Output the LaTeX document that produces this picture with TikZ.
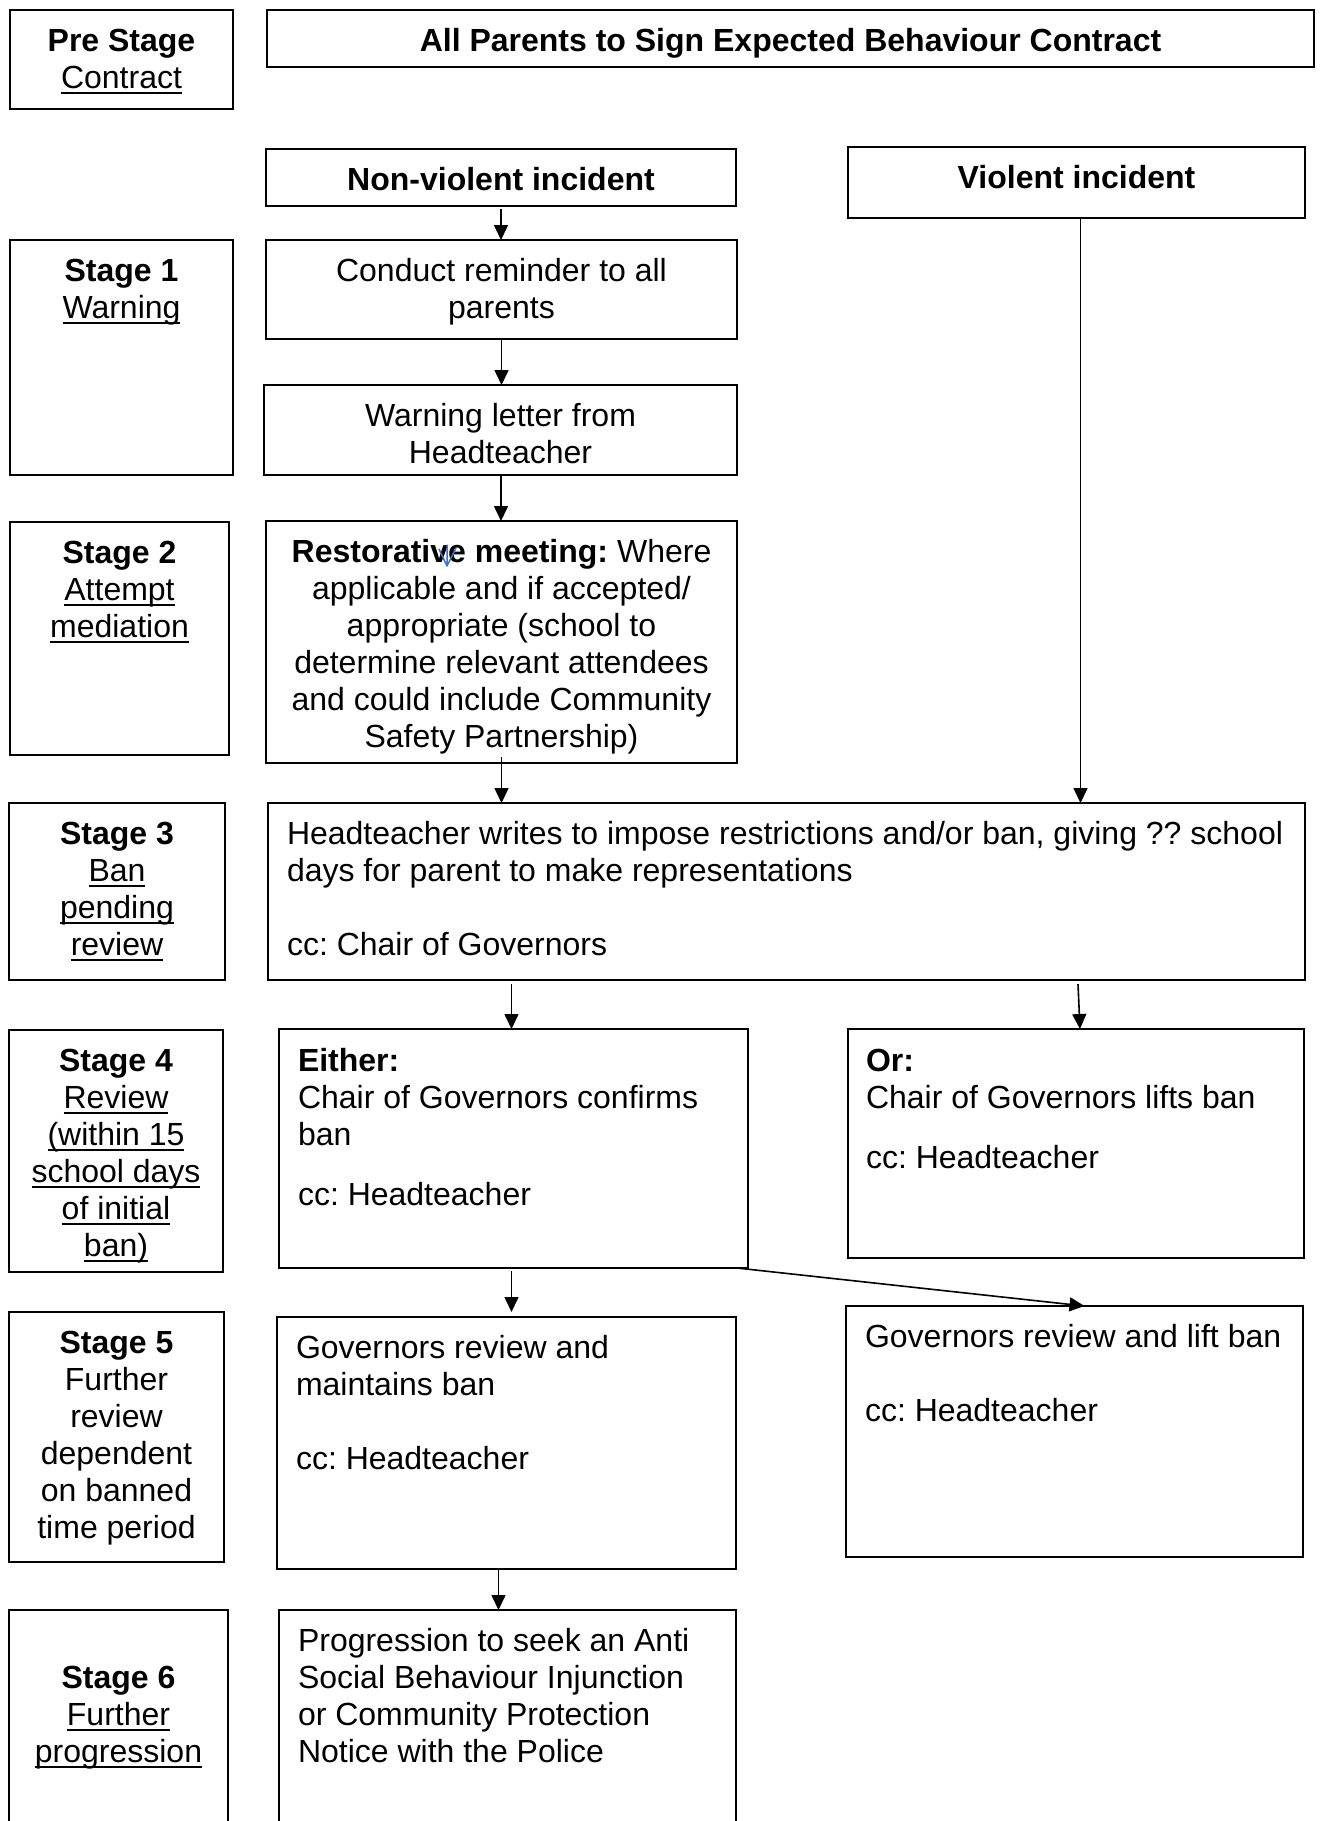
\documentclass[tikz,border=0pt]{standalone}
\usepackage{fontspec}
\setmainfont{Liberation Sans}
\usetikzlibrary{arrows.meta,calc}
\newsavebox\ulbox
\newcommand\myul[1]{\sbox\ulbox{#1}\rlap{\rule[-5pt]{\wd\ulbox}{1.8pt}}\usebox\ulbox}
\newcommand\bx[5]{\node[bx, minimum width={(#4)-(#2)}, minimum height={(#5)-(#3)}] (#1) at (#2,-#3) {};}
\definecolor{markblue}{RGB}{68,114,196}
\tikzset{
  bx/.style={draw, line width=2pt, inner sep=0pt, outer sep=0pt, anchor=north west},
  txt/.style={font=\fontsize{32}{37}\selectfont\frenchspacing, inner sep=0pt, outer sep=0pt},
  ctr/.style={txt, anchor=north, align=center},
  lft/.style={txt, anchor=north west, align=left},
  arr/.style={line width=1.6pt, -{Triangle[length=15pt,width=14pt]}}
}
\begin{document}
\begin{tikzpicture}[x=1pt,y=1pt]
\useasboundingbox[fill=white] (0,0) rectangle (1320,-1821);
% boxes
\bx{pre}{10}{10}{233}{109}
\bx{top}{267}{10}{1314}{67}
\bx{nonv}{266}{149}{736}{206}
\bx{viol}{848}{147}{1305}{218}
\bx{s1}{10}{240}{233}{475}
\bx{conduct}{266}{240}{737}{339}
\bx{warn}{264}{385}{737}{475}
\bx{s2}{10}{522}{229}{755}
\bx{rest}{266}{521}{737}{763}
\bx{s3}{9}{803}{225}{980}
\bx{head}{268}{803}{1305}{980}
\bx{s4}{9}{1030}{223}{1272}
\bx{either}{279}{1029}{748}{1268}
\bx{or}{848}{1029}{1304}{1258}
\bx{s5}{9}{1312}{224}{1562}
\bx{gmain}{277}{1317}{736}{1569}
\bx{glift}{846}{1306}{1303}{1557}
\bx{s6}{9}{1610}{228}{1832}
\bx{prog}{279}{1610}{736}{1832}
% texts
\node[ctr] (t-pre) at ($(pre.north)+(0,-15.6)$) {\strut\textbf{Pre Stage}\\\myul{Contract}};
\node[ctr] (t-top) at ($(top.north)+(0,-15.6)$) {\strut\textbf{All Parents to Sign Expected Behaviour Contract}};
\node[ctr] (t-nonv) at ($(nonv.north)+(0,-15.6)$) {\strut\textbf{Non-violent incident}};
\node[ctr] (t-viol) at ($(viol.north)+(0,-15.6)$) {\strut\textbf{Violent incident}};
\node[ctr] (t-s1) at ($(s1.north)+(0,-15.6)$) {\strut\textbf{Stage 1}\\\myul{Warning}};
\node[ctr] (t-conduct) at ($(conduct.north)+(0,-15.6)$) {\strut Conduct reminder to all\\parents};
\node[ctr] (t-warn) at ($(warn.north)+(0,-15.6)$) {\strut Warning letter from\\Headteacher};
\node[ctr] (t-s2) at ($(s2.north)+(0,-15.6)$) {\strut\textbf{Stage 2}\\\myul{Attempt}\\\myul{mediation}};
\node[ctr] (t-rest) at ($(rest.north)+(0,-15.6)$) {\strut\textbf{Restorative meeting:} Where\\applicable and if accepted/\\appropriate (school to\\determine relevant attendees\\and could include Community\\Safety Partnership)};
\node[ctr] (t-s3) at ($(s3.north)+(0,-15.6)$) {\strut\textbf{Stage 3}\\\myul{Ban}\\\myul{pending}\\\myul{review}};
\node[lft] (t-head) at ($(head.north west)+(19,-15.6)$) {\strut Headteacher writes to impose restrictions and/or ban, giving ?? school\\days for parent to make representations\\[37pt]cc: Chair of Governors};
\node[ctr] (t-s4) at ($(s4.north)+(0,-15.6)$) {\strut\textbf{Stage 4}\\\myul{Review}\\\myul{(within 15}\\\myul{school days}\\\myul{of initial}\\\myul{ban)}};
\node[lft] (t-either) at ($(either.north west)+(19,-16.6)$) {\strut\textbf{Either:}\\Chair of Governors confirms\\ban\\[23pt]cc: Headteacher};
\node[lft] (t-or) at ($(or.north west)+(18,-16.6)$) {\strut\textbf{Or:}\\Chair of Governors lifts ban\\[23pt]cc: Headteacher};
\node[ctr] (t-s5) at ($(s5.north)+(0,-15.6)$) {\strut\textbf{Stage 5}\\Further\\review\\dependent\\on banned\\time period};
\node[lft] (t-gmain) at ($(gmain.north west)+(19,-15.6)$) {\strut Governors review and\\maintains ban\\[37pt]cc: Headteacher};
\node[lft] (t-glift) at ($(glift.north west)+(19,-15.6)$) {\strut Governors review and lift ban\\[37pt]cc: Headteacher};
\node[ctr] (t-s6) at ($(s6.north)+(0,-53)$) {\strut\textbf{Stage 6}\\\myul{Further}\\\myul{progression}};
\node[lft] (t-prog) at ($(prog.north west)+(19,-15.6)$) {\strut Progression to seek an Anti\\Social Behaviour Injunction\\or Community Protection\\Notice with the Police};
% small blue mark
\draw[markblue, line width=1.5pt, line cap=round, line join=round] (447,-545) -- (447,-566) (439,-549) -- (447,-566) -- (456,-548);
% connectors
\draw[arr] ([yshift=-3pt]nonv.south) -- (nonv.south |- conduct.north);
\draw[arr] (conduct.south) -- (conduct.south |- warn.north);
\draw[arr] ([xshift=-0.5pt]warn.south -| conduct.south) -- ([xshift=-0.5pt]conduct.south |- rest.north);
\draw[arr] ([yshift=6pt]rest.south) -- (rest.south |- head.north);
\draw[arr] ([xshift=4pt]viol.south) -- ([xshift=4pt]viol.south |- head.north);
\draw[arr] ([xshift=-2pt,yshift=-4pt]either.north |- head.south) -- ([xshift=-2pt]either.north);
\draw[arr] ([xshift=2pt,yshift=-4pt]or.north |- head.south) -- ([xshift=4pt]or.north);
\draw[arr] ([xshift=-2pt,yshift=-3pt]either.south) -- ([xshift=-2pt,yshift=5pt]either.south |- gmain.north);
\draw[arr] ([xshift=-11pt]either.south east) -- ([xshift=10pt]glift.north);
\draw[arr] ([xshift=-8pt]gmain.south) -- ([xshift=-8pt]gmain.south |- prog.north);
\end{tikzpicture}
\end{document}
